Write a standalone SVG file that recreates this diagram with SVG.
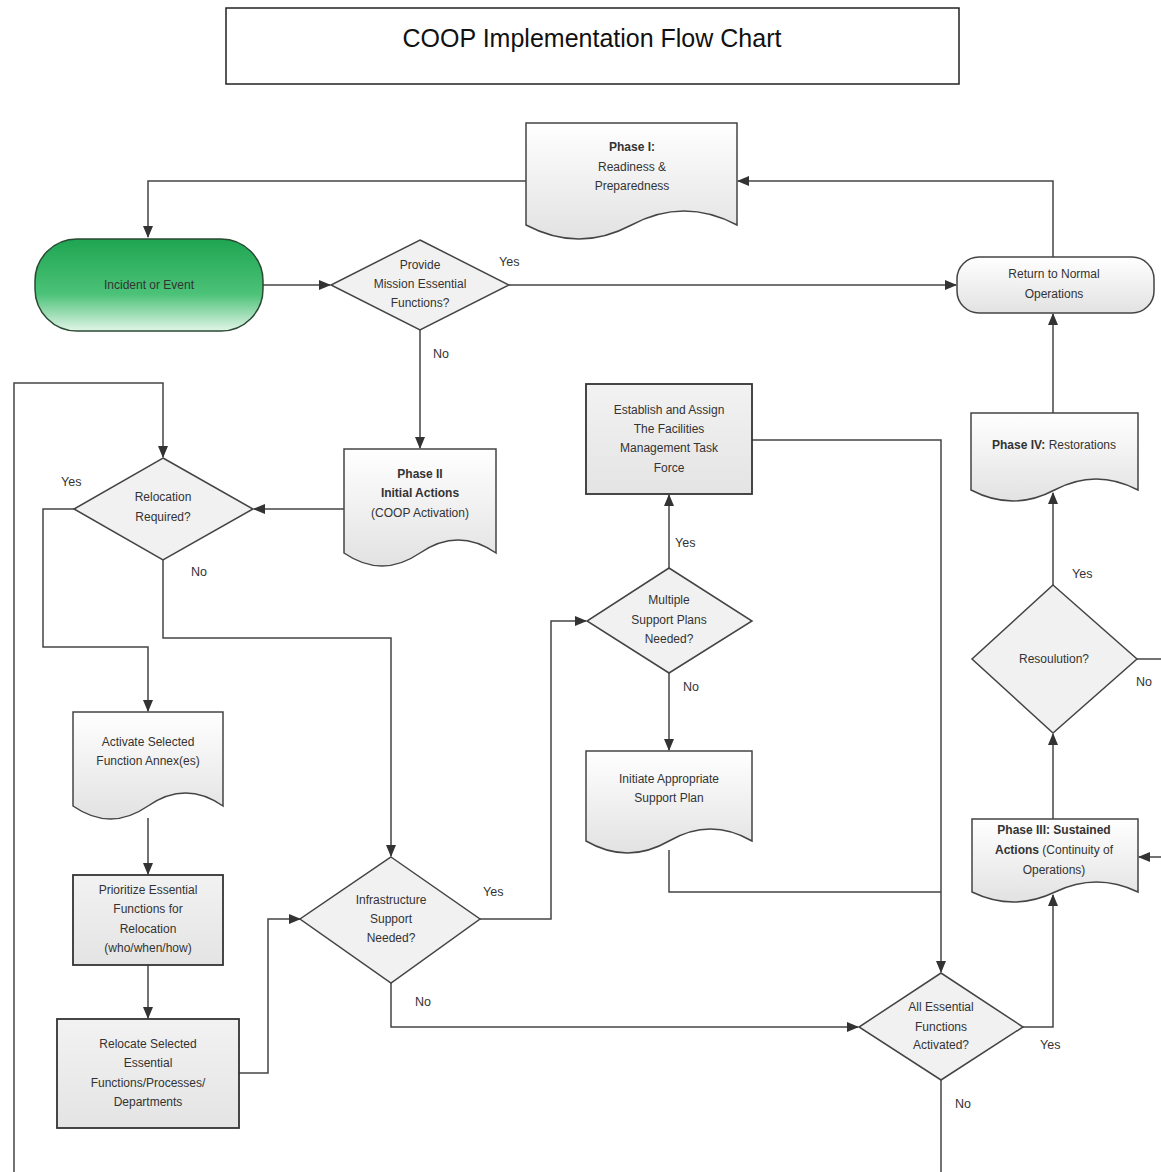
<svg xmlns="http://www.w3.org/2000/svg" width="1161" height="1172" viewBox="0 0 1161 1172">
<defs>
<linearGradient id="gFill" x1="0" y1="0" x2="0" y2="1"><stop offset="0" stop-color="#ffffff"/><stop offset="1" stop-color="#e2e2e2"/></linearGradient>
<linearGradient id="gBox" x1="0" y1="0" x2="0" y2="1"><stop offset="0" stop-color="#f2f2f2"/><stop offset="1" stop-color="#e4e4e4"/></linearGradient>
<linearGradient id="gGreen" x1="0" y1="0" x2="0" y2="1"><stop offset="0" stop-color="#1ea552"/><stop offset="0.6" stop-color="#4cc278"/><stop offset="1" stop-color="#e2f5e8"/></linearGradient>
<marker id="arr" markerWidth="12" markerHeight="10" refX="11" refY="5" orient="auto" markerUnits="userSpaceOnUse"><path d="M0,0 L12,5 L0,10 Z" fill="#333"/></marker>
</defs>
<style>
.shape{stroke:#444;stroke-width:1.5;fill:url(#gFill)}
.box{stroke:#333;stroke-width:1.8;fill:url(#gBox)}
.dia{stroke:#444;stroke-width:1.5;fill:#f1f1f1}
.t{font-family:"Liberation Sans",Arial,sans-serif;font-size:12px;fill:#333;text-anchor:middle}
.b{font-weight:bold}
.lbl{font-family:"Liberation Sans",Arial,sans-serif;font-size:12.5px;fill:#333}
.c{fill:none;stroke:#444;stroke-width:1.5}
</style>
<rect width="1161" height="1172" fill="#ffffff"/>

<g id="title">
<rect x="226" y="8" width="733" height="76" fill="#fff" stroke="#222" stroke-width="1.5"/>
<text x="592" y="47" font-family="'Liberation Sans',Arial,sans-serif" font-size="25" fill="#111" text-anchor="middle">COOP Implementation Flow Chart</text>
</g>

<g id="connectors">
<path class="c" d="M526,181 H148 V237" marker-end="url(#arr)"/>
<path class="c" d="M263,285 H330" marker-end="url(#arr)"/>
<path class="c" d="M509,285 H956" marker-end="url(#arr)"/>
<path class="c" d="M1053,257 V181 H738" marker-end="url(#arr)"/>
<path class="c" d="M420,330 V448" marker-end="url(#arr)"/>
<path class="c" d="M344,509 H254" marker-end="url(#arr)"/>
<path class="c" d="M14,1172 V383 H163 V457" marker-end="url(#arr)"/>
<path class="c" d="M74,509 H43 V647 H148 V711" marker-end="url(#arr)"/>
<path class="c" d="M163,560 V638 H391 V856" marker-end="url(#arr)"/>
<path class="c" d="M148,818 V874" marker-end="url(#arr)"/>
<path class="c" d="M148,965 V1018" marker-end="url(#arr)"/>
<path class="c" d="M239,1073 H268 V919 H300" marker-end="url(#arr)"/>
<path class="c" d="M480,919 H551 V621 H586" marker-end="url(#arr)"/>
<path class="c" d="M669,568 V495" marker-end="url(#arr)"/>
<path class="c" d="M669,673 V750" marker-end="url(#arr)"/>
<path class="c" d="M752,440 H941 V972" marker-end="url(#arr)"/>
<path class="c" d="M669,850 V892 H941"/>
<path class="c" d="M391,983 V1027 H858" marker-end="url(#arr)"/>
<path class="c" d="M1023,1027 H1053 V895" marker-end="url(#arr)"/>
<path class="c" d="M941,1080 V1172"/>
<path class="c" d="M1053,819 V734" marker-end="url(#arr)"/>
<path class="c" d="M1053,585 V493" marker-end="url(#arr)"/>
<path class="c" d="M1053,413 V314" marker-end="url(#arr)"/>
<path class="c" d="M1137,659 H1161"/>
<path class="c" d="M1161,857 H1139" marker-end="url(#arr)"/>
<text class="lbl" x="499" y="266">Yes</text>
<text class="lbl" x="433" y="358">No</text>
<text class="lbl" x="61" y="486">Yes</text>
<text class="lbl" x="191" y="576">No</text>
<text class="lbl" x="483" y="896">Yes</text>
<text class="lbl" x="415" y="1006">No</text>
<text class="lbl" x="675" y="547">Yes</text>
<text class="lbl" x="683" y="691">No</text>
<text class="lbl" x="1040" y="1049">Yes</text>
<text class="lbl" x="955" y="1108">No</text>
<text class="lbl" x="1072" y="578">Yes</text>
<text class="lbl" x="1136" y="686">No</text>
</g>

<g id="phase1">
<path class="shape" d="M526,123 H737 V225 Q684,197 631.5,225 T526,225 Z"/>
<text class="t b" x="632" y="151">Phase I:</text>
<text class="t" x="632" y="171">Readiness &amp;</text>
<text class="t" x="632" y="190">Preparedness</text>
</g>

<g id="incident">
<rect x="35" y="239" width="228" height="92" rx="42" fill="url(#gGreen)" stroke="#2a4a33" stroke-width="1.5"/>
<text class="t" x="149" y="289" fill="#1b3322">Incident or Event</text>
</g>

<g id="provide">
<polygon class="dia" points="420,240 509,285 420,330 331,285"/>
<text class="t" x="420" y="269">Provide</text>
<text class="t" x="420" y="288">Mission Essential</text>
<text class="t" x="420" y="307">Functions?</text>
</g>

<g id="return">
<rect class="shape" x="957" y="257" width="197" height="56" rx="22"/>
<text class="t" x="1054" y="278">Return to Normal</text>
<text class="t" x="1054" y="298">Operations</text>
</g>

<g id="phase2">
<path class="shape" d="M344,449 H496 V553 Q458,527 420,553 T344,553 Z"/>
<text class="t b" x="420" y="478">Phase II</text>
<text class="t b" x="420" y="497">Initial Actions</text>
<text class="t" x="420" y="517">(COOP Activation)</text>
</g>

<g id="relocation">
<polygon class="dia" points="163,458 253,509 163,560 74,509"/>
<text class="t" x="163" y="501">Relocation</text>
<text class="t" x="163" y="521">Required?</text>
</g>

<g id="activate">
<path class="shape" d="M73,712 H223 V806 Q185.5,780 148,806 T73,806 Z"/>
<text class="t" x="148" y="746">Activate Selected</text>
<text class="t" x="148" y="765">Function Annex(es)</text>
</g>

<g id="prioritize">
<rect class="box" x="73" y="875" width="150" height="90"/>
<text class="t" x="148" y="894">Prioritize Essential</text>
<text class="t" x="148" y="913">Functions for</text>
<text class="t" x="148" y="933">Relocation</text>
<text class="t" x="148" y="952">(who/when/how)</text>
</g>

<g id="relocate">
<rect class="box" x="57" y="1019" width="182" height="109"/>
<text class="t" x="148" y="1048">Relocate Selected</text>
<text class="t" x="148" y="1067">Essential</text>
<text class="t" x="148" y="1087">Functions/Processes/</text>
<text class="t" x="148" y="1106">Departments</text>
</g>

<g id="infrastructure">
<polygon class="dia" points="391,857 480,919 391,983 300,919"/>
<text class="t" x="391" y="904">Infrastructure</text>
<text class="t" x="391" y="923">Support</text>
<text class="t" x="391" y="942">Needed?</text>
</g>

<g id="establish">
<rect class="box" x="586" y="384" width="166" height="110"/>
<text class="t" x="669" y="414">Establish and Assign</text>
<text class="t" x="669" y="433">The Facilities</text>
<text class="t" x="669" y="452">Management Task</text>
<text class="t" x="669" y="472">Force</text>
</g>

<g id="multiple">
<polygon class="dia" points="669,568 752,621 669,673 587,621"/>
<text class="t" x="669" y="604">Multiple</text>
<text class="t" x="669" y="624">Support Plans</text>
<text class="t" x="669" y="643">Needed?</text>
</g>

<g id="initiate">
<path class="shape" d="M586,751 H752 V841 Q710.5,817 669,841 T586,841 Z"/>
<text class="t" x="669" y="783">Initiate Appropriate</text>
<text class="t" x="669" y="802">Support Plan</text>
</g>

<g id="allEssential">
<polygon class="dia" points="941,973 1023,1027 941,1080 859,1027"/>
<text class="t" x="941" y="1011">All Essential</text>
<text class="t" x="941" y="1031">Functions</text>
<text class="t" x="941" y="1049">Activated?</text>
</g>

<g id="phase3">
<path class="shape" d="M972,819 H1138 V892 Q1096.5,872 1055,892 T972,892 Z"/>
<text class="t b" x="1054" y="834">Phase III: Sustained</text>
<text class="t" x="1054" y="854"><tspan class="b">Actions</tspan> (Continuity of</text>
<text class="t" x="1054" y="874">Operations)</text>
</g>

<g id="resolution">
<polygon class="dia" points="1053,585 1137,659 1053,733 972,659"/>
<text class="t" x="1054" y="663">Resoulution?</text>
</g>

<g id="phase4">
<path class="shape" d="M971,413 H1138 V490 Q1096,468 1054.5,490 T971,490 Z"/>
<text class="t" x="1054" y="449"><tspan class="b">Phase IV:</tspan> Restorations</text>
</g>
</svg>
